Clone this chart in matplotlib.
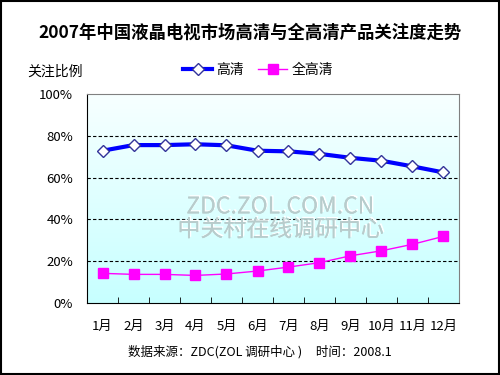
import numpy as np
import matplotlib
matplotlib.use('Agg')
import matplotlib.pyplot as plt
import matplotlib.patheffects as pe
from matplotlib.patches import Rectangle

plt.rcParams['font.family'] = ['Noto Sans CJK SC', 'DejaVu Sans']

months = ['1月', '2月', '3月', '4月', '5月', '6月', '7月', '8月', '9月', '10月', '11月', '12月']
hd = [72.9, 75.6, 75.6, 76.0, 75.5, 72.9, 72.6, 71.4, 69.5, 68.1, 65.4, 62.5]
full_hd = [14.2, 13.7, 13.7, 13.2, 13.9, 15.3, 17.2, 19.3, 22.6, 25.0, 28.1, 31.9]
yticks = [0, 20, 40, 60, 80, 100]

fig = plt.figure(figsize=(5, 3.75), dpi=100)
fig.patches.append(Rectangle((0.002, 0.003), 0.995, 0.994, transform=fig.transFigure,
                             fill=False, edgecolor='black', linewidth=1.5))
ax = fig.add_axes([0.174, 0.192, 0.744, 0.557])

# 背景渐变
grad = np.linspace(0, 1, 256).reshape(-1, 1)
top = np.array([0.97, 1.0, 1.0])
bot = np.array([0.78, 1.0, 1.0])
img = top + (bot - top) * grad[..., None]
ax.imshow(img, extent=[0, 1, 0, 1], transform=ax.transAxes, aspect='auto', zorder=0)

x = np.arange(len(months))
ax.plot(x, hd, color='#0000ff', lw=3, marker='D', ms=6.5, mfc='white', mec='#333399',
        mew=1, label='高清', zorder=4)
ax.plot(x, full_hd, color='#ff00ff', lw=1, marker='s', ms=7, mfc='#ff00ff', mec='#ff00ff',
        label='全高清', zorder=4)

ax.set_xlim(-0.5, len(months) - 0.5)
ax.set_ylim(0, 100)
ax.set_yticks(yticks)
ax.set_yticklabels([f'{v}%' for v in yticks], fontsize=9.5)
ax.tick_params(axis='y', length=0, pad=10)
ax.set_xticks(x)
ax.set_xticklabels(months, fontsize=9.5)
ax.set_xticks(np.arange(len(months) + 1) - 0.5, minor=True)
ax.tick_params(axis='x', which='major', length=0, pad=12)
ax.tick_params(axis='x', which='minor', direction='in', length=4, color='black')
for v in yticks[1:-1]:
    ax.axhline(v, color='black', ls=(0, (3, 2)), lw=0.8, zorder=2)

for s in ['top', 'right']:
    ax.spines[s].set_color('#808080')
for s in ['left', 'bottom']:
    ax.spines[s].set_color('black')

# 水印
emboss = [pe.withSimplePatchShadow(offset=(1, 1), shadow_rgbFace='white', alpha=1.0), pe.Normal()]
ax.text(0.52, 0.46, 'ZDC.ZOL.COM.CN', transform=ax.transAxes, ha='center', va='center',
        fontsize=16.5, color='#b8cccc', zorder=3, path_effects=emboss)
ax.text(0.52, 0.35, '中关村在线调研中心', transform=ax.transAxes, ha='center', va='center',
        fontsize=16.5, color='#b8cccc', zorder=3, path_effects=emboss)

fig.text(0.5, 0.912, '2007年中国液晶电视市场高清与全高清产品关注度走势', ha='center', va='center',
         fontsize=12.5, fontweight='bold')
fig.text(0.054, 0.808, '关注比例', ha='left', va='center', fontsize=10)
ax.legend(loc='center', bbox_to_anchor=(0.46, 1.115), ncol=2, frameon=False, fontsize=10,
          handlelength=2.1, columnspacing=1.0, handletextpad=0.3)
fig.text(0.52, 0.061, '数据来源：ZDC(ZOL 调研中心 )     时间：2008.1', ha='center', va='center',
         fontsize=9)

fig.savefig('out.png', dpi=100)
